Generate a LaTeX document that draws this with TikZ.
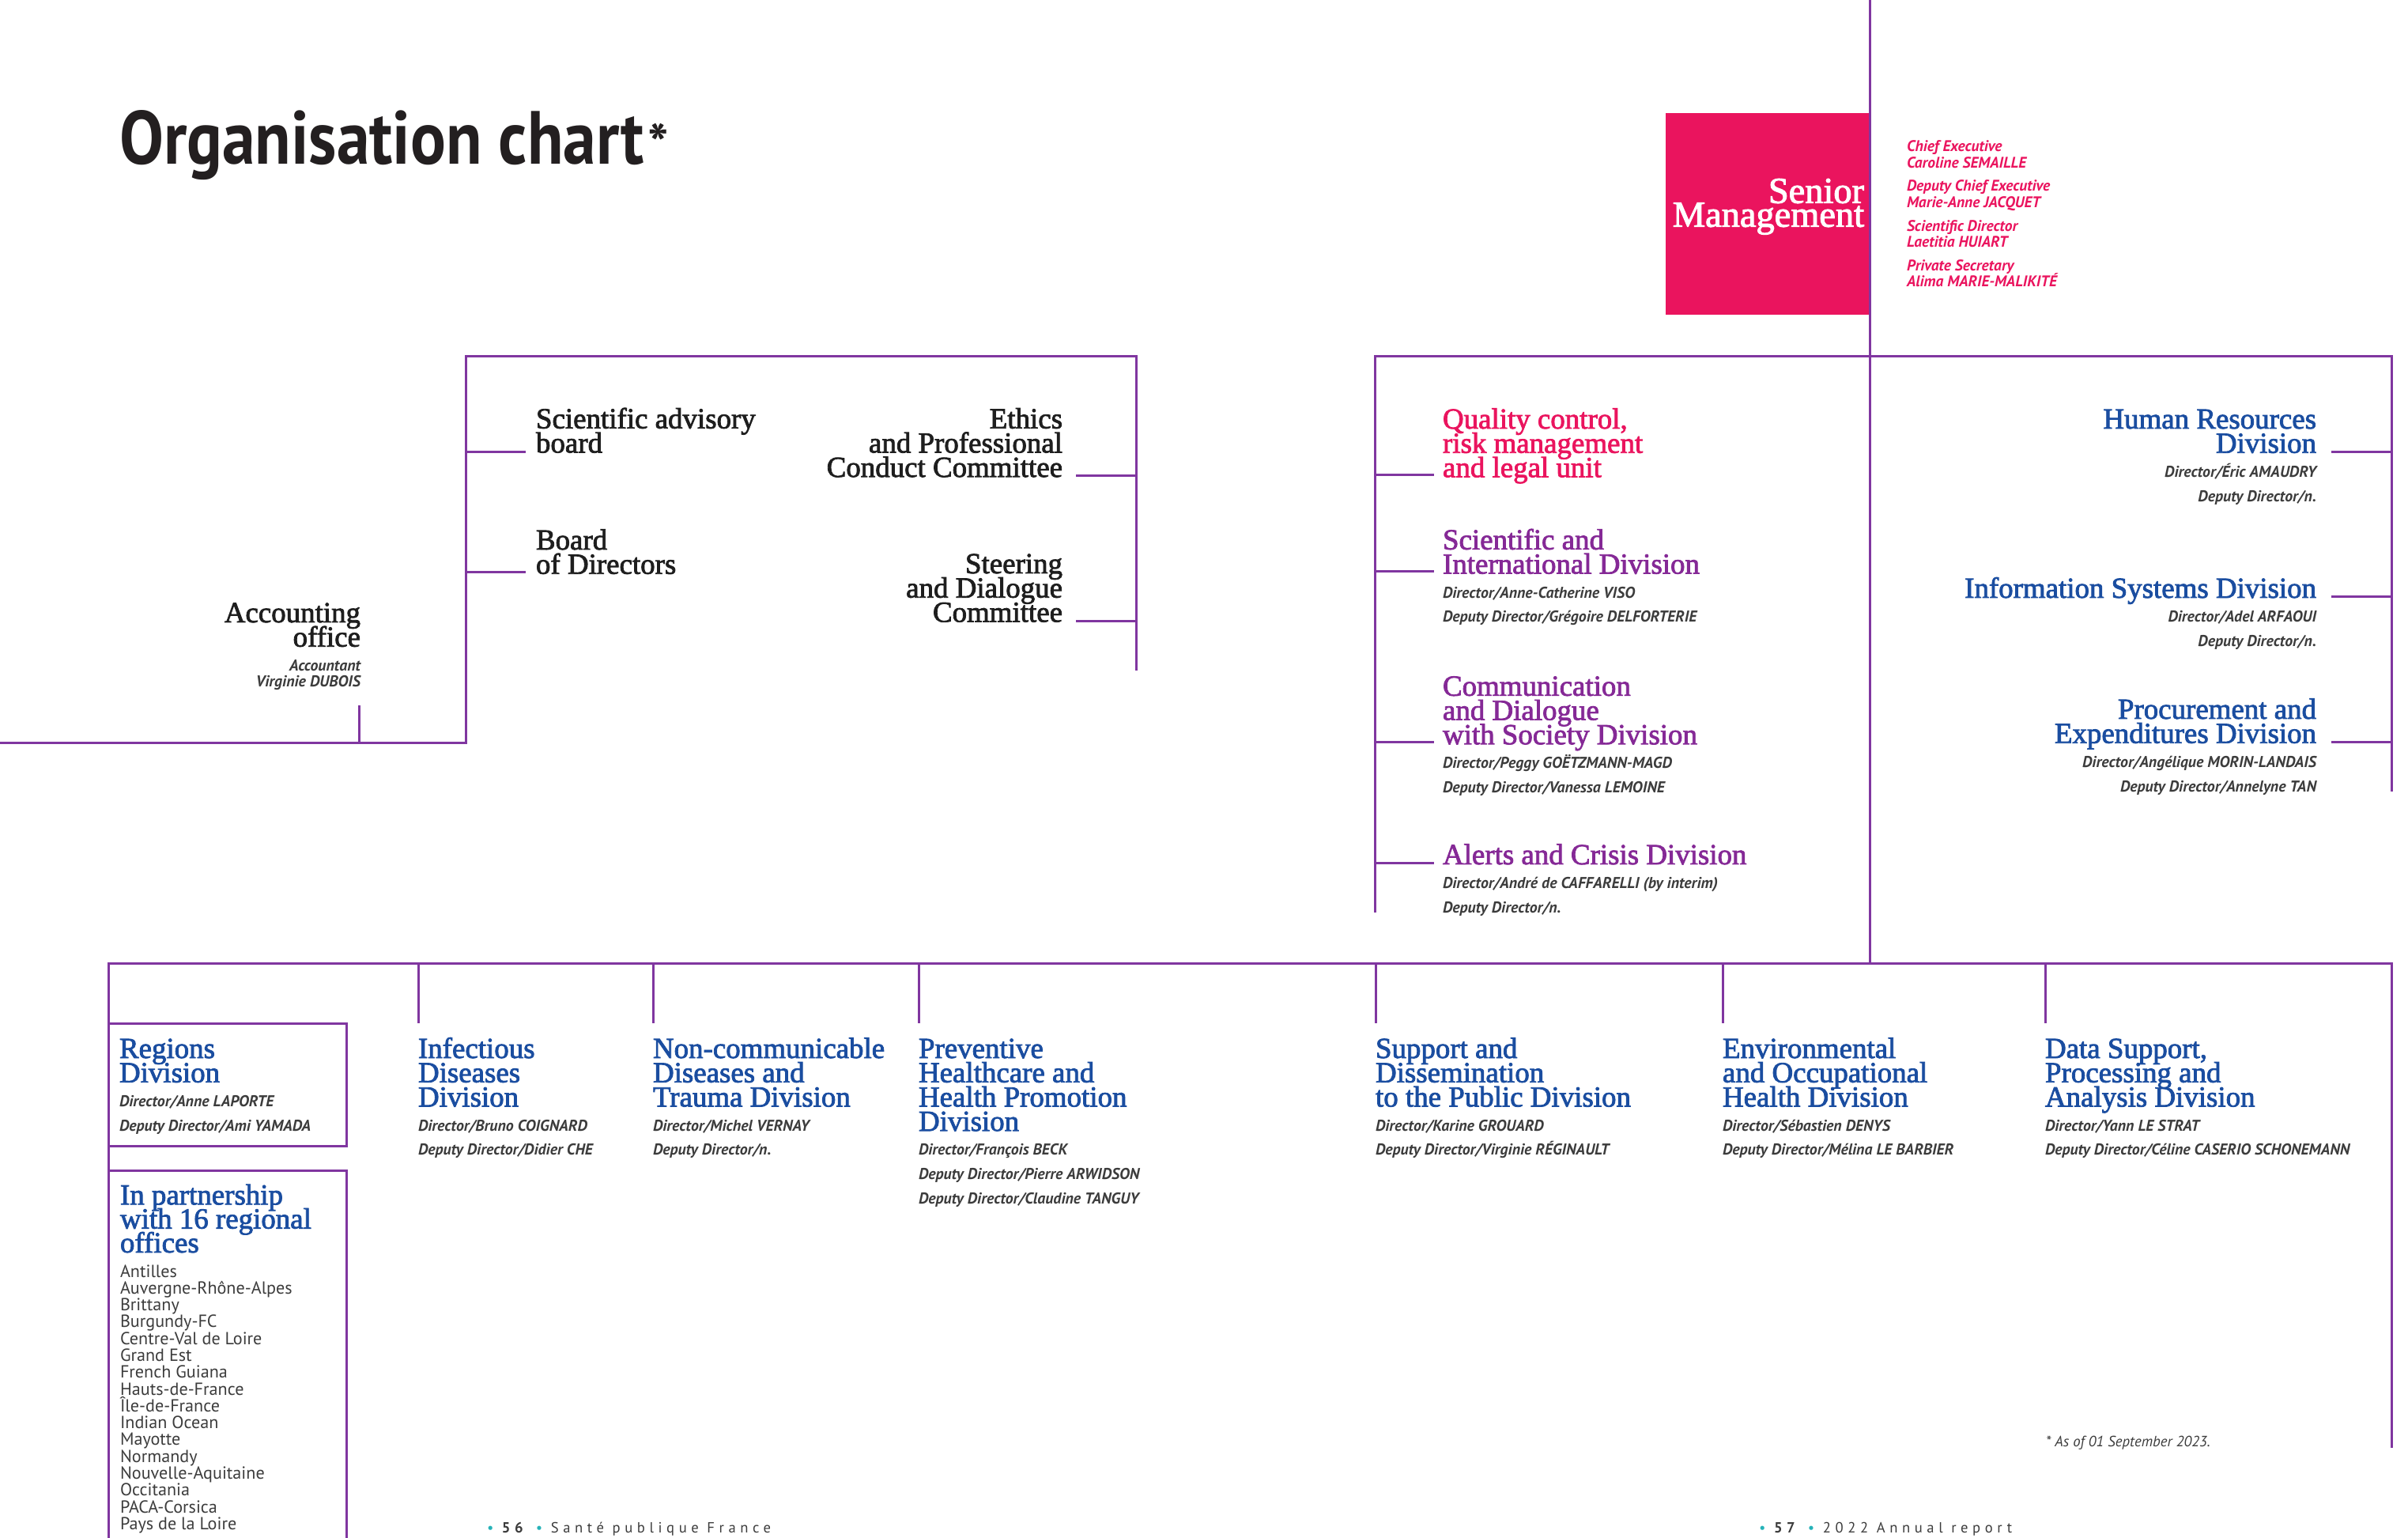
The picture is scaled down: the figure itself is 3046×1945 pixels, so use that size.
\documentclass[tikz,border=0pt]{standalone}
\usepackage{fontspec}
\usepackage{graphicx}
\setmainfont{Liberation Serif}
\newfontfamily\hdf{Liberation Serif}[FakeBold=2.2]
\newfontfamily\sansf{PT Sans}
\definecolor{linec}{RGB}{128,54,160}
\definecolor{pinkc}{RGB}{234,20,94}
\definecolor{purpc}{RGB}{133,41,150}
\definecolor{bluec}{RGB}{26,77,160}
\definecolor{grayc}{RGB}{60,60,60}
\definecolor{blackc}{RGB}{30,30,30}
\definecolor{titlec}{RGB}{35,31,32}
\definecolor{tealc}{RGB}{38,178,184}
\newcommand\hdtxt{\hdf\fontsize{10.5pt}{8.74pt}\selectfont}
\newcommand\smf{\sansf\bfseries\itshape\fontsize{5.65pt}{8.74pt}\selectfont}
\newcommand\smtxt[1]{\relax{\smf\color{grayc}#1}}
\newcommand\LBk[2][8.74pt]{\vtop{\lineskiplimit=-100pt\lineskip=0pt\baselineskip=#1\relax\halign{##\hfil\cr#2\crcr}}}
\newcommand\RBk[2][8.74pt]{\vtop{\lineskiplimit=-100pt\lineskip=0pt\baselineskip=#1\relax\halign{\hfil##\cr#2\crcr}}}
\begin{document}
\begin{tikzpicture}[x=0.1mm,y=-0.1mm,
  ln/.style={draw=linec, line width=0.3mm},
  tx/.style={inner sep=0pt, outer sep=0pt},
  hd/.style={tx, font=\hdtxt}]
\useasboundingbox (0,0) rectangle (3046,1945);

% ---------- title ----------
\node[tx, anchor=base west, text=titlec] (title) at (151,208)
  {\resizebox{66.4mm}{6.8mm}{\sansf\bfseries Organisation chart}\kern0.4mm\sansf\bfseries\fontsize{20pt}{20pt}\selectfont *};

% ---------- senior management ----------
\node[tx, fill=pinkc, minimum width=25.8mm, minimum height=25.5mm, anchor=north west] (smbox) at (2107,143) {};
\node[tx, text=white, font=\hdf\fontsize{13.2pt}{8.54pt}\selectfont, anchor=base east] (smt) at (2358,256.7)
  {\RBk[8.54pt]{Senior\cr Management}};
\node[tx, font=\sansf\bfseries\itshape\fontsize{5.55pt}{5.83pt}\selectfont, text=pinkc, anchor=base west] (sml) at (2412,191.7)
  {\LBk[5.83pt]{Chief Executive\cr Caroline SEMAILLE\cr\noalign{\kern2.62pt}
   Deputy Chief Executive\cr Marie-Anne JACQUET\cr\noalign{\kern2.62pt}
   Scientific Director\cr Laetitia HUIART\cr\noalign{\kern2.62pt}
   Private Secretary\cr Alima MARIE-MALIKITÉ}};

% ---------- coordinates ----------
\coordinate (top) at (2365,0);
\coordinate (hub) at (2365,1218);
\coordinate (aL) at (0,940);
\coordinate (aC) at (589,940);
\coordinate (aT) at (589,451);
\coordinate (aR) at (1437,451);
\coordinate (aB) at (1437,848);
\coordinate (accT) at (454,892);
\coordinate (accB) at (454,940);
\coordinate (bL) at (1739,1154);
\coordinate (bT) at (1739,451);
\coordinate (bR) at (3025,451);
\coordinate (bB) at (3025,1001);
\coordinate (cL) at (137,1945);
\coordinate (cT) at (137,1218);
\coordinate (cR) at (3025,1218);
\coordinate (cB) at (3025,1831);

% ---------- lines ----------
\draw[ln] (top) -- (hub);
\draw[ln] (aL) -- (aC) -- (aT) -- (aR) -- (aB);
\draw[ln] (accT) -- (accB);
\draw[ln] (589,572) coordinate (t1a) -- (665,572) coordinate (t1b);
\draw[ln] (589,724) coordinate (t2a) -- (665,724) coordinate (t2b);
\draw[ln] (1361,602) coordinate (t3a) -- (1437,602) coordinate (t3b);
\draw[ln] (1361,786) coordinate (t4a) -- (1437,786) coordinate (t4b);
\draw[ln] (bL) -- (bT) -- (bR) -- (bB);
\foreach \yy/\nm in {601/q,723/s,939/c,1092/a}
  \draw[ln] (1739,\yy) coordinate (l\nm) -- (1814,\yy) coordinate (m\nm);
\foreach \yy/\nm in {572/h,755/i,939/p}
  \draw[ln] (2949,\yy) coordinate (r\nm) -- (3025,\yy) coordinate (s\nm);
\draw[ln] (cL) -- (cT) -- (cR) -- (cB);
\foreach \xx/\nm in {529/inf,826/ncd,1162/prv,1740/sup,2179/env,2587/dat}
  \draw[ln] (\xx,1218) coordinate (d\nm) -- (\xx,1294) coordinate (e\nm);
\draw[ln] (137,1294) coordinate (rg1) -- (438,1294) coordinate (rg2) -- (438,1449) coordinate (rg3) -- (137,1449) coordinate (rg4);
\draw[ln] (137,1480) coordinate (pt1) -- (438,1480) coordinate (pt2) -- (438,1945) coordinate (pt3);

% ---------- left committees ----------
\node[hd, text=blackc, anchor=base west] (sab) at (678,541.7) {\LBk{Scientific advisory\cr board}};
\node[hd, text=blackc, anchor=base west] (bod) at (678,695) {\LBk{Board\cr of Directors}};
\node[hd, text=blackc, anchor=base east] (eth) at (1344,541.7) {\RBk{Ethics\cr and Professional\cr Conduct Committee}};
\node[hd, text=blackc, anchor=base east] (ste) at (1344,725) {\RBk{Steering\cr and Dialogue\cr Committee}};
\node[hd, text=blackc, anchor=base east] (acc) at (456,787)
  {\RBk{Accounting\cr office\cr \smtxt{Accountant}\cr\noalign{\kern-3.04pt} \smtxt{Virginie DUBOIS}}};

% ---------- middle-right divisions ----------
\node[hd, text=pinkc, anchor=base west] (qual) at (1825,542)
  {\LBk{Quality control,\cr risk management\cr and legal unit}};
\node[hd, text=purpc, anchor=base west] (sci) at (1825,694.8)
  {\LBk{Scientific and\cr International Division\cr
   \smtxt{Director/Anne-Catherine VISO}\cr \smtxt{Deputy Director/Grégoire DELFORTERIE}}};
\node[hd, text=purpc, anchor=base west] (com) at (1825,879.8)
  {\LBk{Communication\cr and Dialogue\cr with Society Division\cr
   \smtxt{Director/Peggy GOËTZMANN-MAGD}\cr \smtxt{Deputy Director/Vanessa LEMOINE}}};
\node[hd, text=purpc, anchor=base west] (alr) at (1825,1093)
  {\LBk{Alerts and Crisis Division\cr
   \smtxt{Director/André de CAFFARELLI (by interim)}\cr \smtxt{Deputy Director/n.}}};
\node[hd, text=bluec, anchor=base east] (hr) at (2930,542)
  {\RBk{Human Resources\cr Division\cr
   \smtxt{Director/Éric AMAUDRY}\cr \smtxt{Deputy Director/n.}}};
\node[hd, text=bluec, anchor=base east] (is) at (2930,756)
  {\RBk{Information Systems Division\cr
   \smtxt{Director/Adel ARFAOUI}\cr \smtxt{Deputy Director/n.}}};
\node[hd, text=bluec, anchor=base east] (proc) at (2930,909)
  {\RBk{Procurement and\cr Expenditures Division\cr
   \smtxt{Director/Angélique MORIN-LANDAIS}\cr \smtxt{Deputy Director/Annelyne TAN}}};

% ---------- bottom divisions ----------
\node[hd, text=bluec, anchor=base west] (reg) at (151,1338)
  {\LBk{Regions\cr Division\cr
   \smtxt{Director/Anne LAPORTE}\cr \smtxt{Deputy Director/Ami YAMADA}}};
\node[hd, text=bluec, anchor=base west] (inf) at (529,1338)
  {\LBk{Infectious\cr Diseases\cr Division\cr
   \smtxt{Director/Bruno COIGNARD}\cr \smtxt{Deputy Director/Didier CHE}}};
\node[hd, text=bluec, anchor=base west] (ncd) at (826,1338)
  {\LBk{Non-communicable\cr Diseases and\cr Trauma Division\cr
   \smtxt{Director/Michel VERNAY}\cr \smtxt{Deputy Director/n.}}};
\node[hd, text=bluec, anchor=base west] (prv) at (1162,1338)
  {\LBk{Preventive\cr Healthcare and\cr Health Promotion\cr Division\cr
   \smtxt{Director/François BECK}\cr \smtxt{Deputy Director/Pierre ARWIDSON}\cr \smtxt{Deputy Director/Claudine TANGUY}}};
\node[hd, text=bluec, anchor=base west] (sup) at (1740,1338)
  {\LBk{Support and\cr Dissemination\cr to the Public Division\cr
   \smtxt{Director/Karine GROUARD}\cr \smtxt{Deputy Director/Virginie RÉGINAULT}}};
\node[hd, text=bluec, anchor=base west] (env) at (2179,1338)
  {\LBk{Environmental\cr and Occupational\cr Health Division\cr
   \smtxt{Director/Sébastien DENYS}\cr \smtxt{Deputy Director/Mélina LE BARBIER}}};
\node[hd, text=bluec, anchor=base west] (dat) at (2587,1338)
  {\LBk{Data Support,\cr Processing and\cr Analysis Division\cr
   \smtxt{Director/Yann LE STRAT}\cr \smtxt{Deputy Director/Céline CASERIO SCHONEMANN}}};

% ---------- regional offices ----------
\node[hd, text=bluec, anchor=base west] (part) at (152,1523.3)
  {\LBk[8.62pt]{In partnership\cr with 16 regional\cr offices}};
\node[tx, text=grayc, font=\sansf\fontsize{6.3pt}{6.06pt}\selectfont, anchor=base west] (offs) at (152,1615)
  {\LBk[6.06pt]{Antilles\cr Auvergne-Rhône-Alpes\cr Brittany\cr Burgundy-FC\cr Centre-Val de Loire\cr
   Grand Est\cr French Guiana\cr Hauts-de-France\cr Île-de-France\cr Indian Ocean\cr Mayotte\cr
   Normandy\cr Nouvelle-Aquitaine\cr Occitania\cr PACA-Corsica\cr Pays de la Loire}};

% ---------- footnote and footer ----------
\node[tx, text=grayc, font=\sansf\itshape\fontsize{5.35pt}{6pt}\selectfont, anchor=base west] (note) at (2588,1829)
  {* As of 01 September 2023.};
\node[tx, text=grayc, font=\sansf\fontsize{5.3pt}{6pt}\selectfont\addfontfeature{LetterSpace=30}, anchor=base west] (f1) at (616,1938)
  {\textcolor{tealc}{•} \textbf{56} \textcolor{tealc}{•} Santé publique France};
\node[tx, text=grayc, font=\sansf\fontsize{5.3pt}{6pt}\selectfont\addfontfeature{LetterSpace=30}, anchor=base west] (f2) at (2225,1938)
  {\textcolor{tealc}{•} \textbf{57} \textcolor{tealc}{•} 2022 Annual report};
\end{tikzpicture}
\end{document}
